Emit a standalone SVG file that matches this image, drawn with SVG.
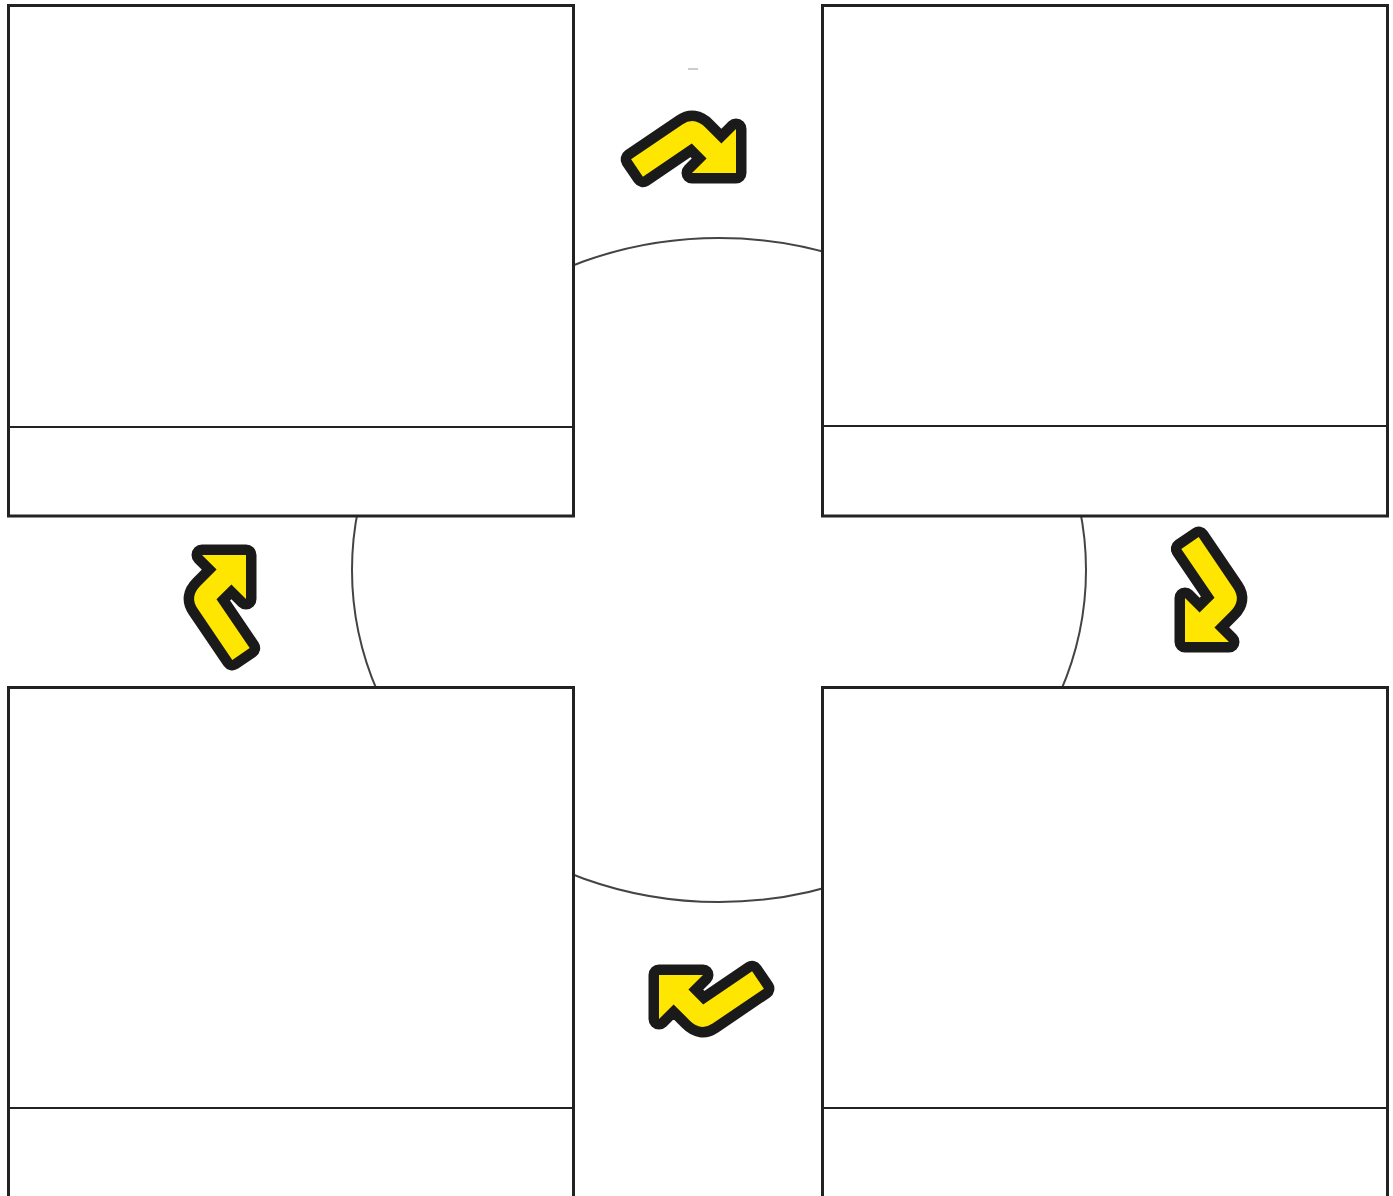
<svg xmlns="http://www.w3.org/2000/svg" width="1393" height="1196" viewBox="0 0 1393 1196">
<style>
.box{fill:#fff;stroke:#222;stroke-width:3}
.div{stroke:#222;stroke-width:2}
.arr{fill:#FFE600;stroke:#1a1a1a;stroke-width:21;stroke-linejoin:round;paint-order:stroke}
</style>
<defs>
<path id="bent" class="arr" d="M-52.9,13.3 L-1.6,-21.5 Q10.3,-29.6 21.4,-18.4 L37.4,-2.4 L52,-17 L52,27 L8,27 L22.6,12.4 L7.8,-2.5 L-41.1,30.7 Z"/>
</defs>
<rect width="1393" height="1196" fill="#fff"/>
<g id="cycle">
<ellipse cx="719" cy="570" rx="367" ry="332" fill="none" stroke="#444" stroke-width="2"/>
</g>
<g id="box-top-left">
<rect class="box" x="8.5" y="5.5" width="565" height="510.5"/>
<line class="div" x1="8.5" y1="427" x2="573.5" y2="427"/>
</g>
<g id="box-top-right">
<rect class="box" x="822.5" y="5.5" width="565" height="510.5"/>
<line class="div" x1="822.5" y1="426" x2="1387.5" y2="426"/>
</g>
<g id="box-bottom-left">
<rect class="box" x="8.5" y="687.5" width="565" height="520"/>
<line class="div" x1="8.5" y1="1108" x2="573.5" y2="1108"/>
</g>
<g id="box-bottom-right">
<rect class="box" x="822.5" y="687.5" width="565" height="520"/>
<line class="div" x1="822.5" y1="1108" x2="1387.5" y2="1108"/>
</g>
<g id="connectors">
<line x1="688" y1="69" x2="698" y2="69" stroke="#999" stroke-width="1"/>
<use href="#bent" transform="translate(684,146)"/>
<use href="#bent" transform="translate(1212,590) rotate(90)"/>
<use href="#bent" transform="translate(711,1002) rotate(180)"/>
<use href="#bent" transform="translate(219,607) rotate(270)"/>
</g>
</svg>
